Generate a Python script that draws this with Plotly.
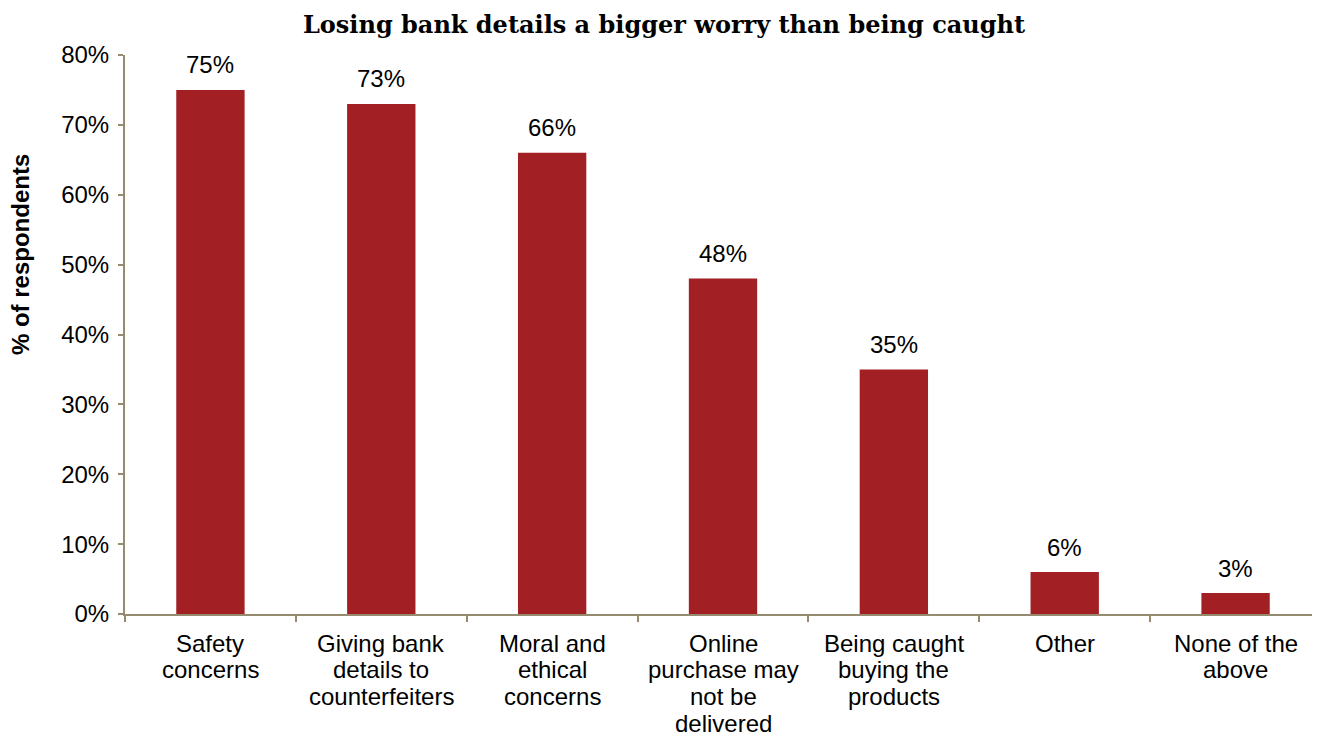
import plotly.graph_objects as go

categories = ["Safety concerns", "Giving bank details to counterfeiters", "Moral and ethical concerns",
              "Online purchase may not be delivered", "Being caught buying the products", "Other",
              "None of the above"]
category_lines = [["Safety", "concerns"], ["Giving bank", "details to", "counterfeiters"],
                  ["Moral and", "ethical", "concerns"], ["Online", "purchase may", "not be", "delivered"],
                  ["Being caught", "buying the", "products"], ["Other"], ["None of the", "above"]]
values = [0.75, 0.73, 0.66, 0.48, 0.35, 0.06, 0.03]
labels = ["75%", "73%", "66%", "48%", "35%", "6%", "3%"]

axis_color = "#968B6F"
bar_color = "#A21F23"
sans = "Liberation Sans, Arial, sans-serif"

fig = go.Figure(go.Bar(
    x=categories, y=values,
    marker=dict(color=bar_color, line=dict(width=0)), width=0.4,
))

for c, v, t in zip(categories, values, labels):
    fig.add_annotation(x=c, y=v, text=t, showarrow=False, yanchor="middle", yshift=25,
                       font=dict(family=sans, size=24, color="#000"))

# category labels, one line at a time (tighter line spacing than Plotly's default)
for c, lines in zip(categories, category_lines):
    for i, ln in enumerate(lines):
        fig.add_annotation(x=c, y=0, yref="paper", text=ln, showarrow=False, yanchor="middle",
                           yshift=-(29 + 26.8 * i), font=dict(family=sans, size=24, color="#000"))

# y-axis title (sits above the plot's vertical centre, as in the reference)
fig.add_annotation(x=0, xref="paper", y=0.642, yref="paper", text="<b>% of respondents</b>",
                   textangle=-90, showarrow=False, xanchor="center", yanchor="middle", xshift=-105,
                   font=dict(family=sans, size=24, color="#000"))

fig.update_layout(
    width=1320, height=735,
    margin=dict(l=117, r=7, t=47, b=129),
    paper_bgcolor="white", plot_bgcolor="white",
    title=dict(text="<b>Losing bank details a bigger worry than being caught</b>",
               x=0.497, xref="container", xanchor="center", y=0.978, yref="container", yanchor="middle",
               font=dict(family="DejaVu Serif, serif", size=24, color="#000")),
    font=dict(family=sans, size=24, color="#000"),
    showlegend=False,
)
fig.update_yaxes(range=[0, 0.8], dtick=0.1, tickformat=".0%", showgrid=False, zeroline=False,
                 showline=True, linecolor=axis_color, linewidth=2, ticks="outside", tickcolor=axis_color,
                 ticklen=5, tickwidth=2, automargin=False, ticklabelstandoff=4,
                 tickfont=dict(size=24))
fig.update_xaxes(showgrid=False, showline=True, linecolor=axis_color, linewidth=2, ticks="outside",
                 tickson="boundaries", tickcolor=axis_color, ticklen=6, tickwidth=2,
                 showticklabels=False, automargin=False)

fig.write_html("out.html")
